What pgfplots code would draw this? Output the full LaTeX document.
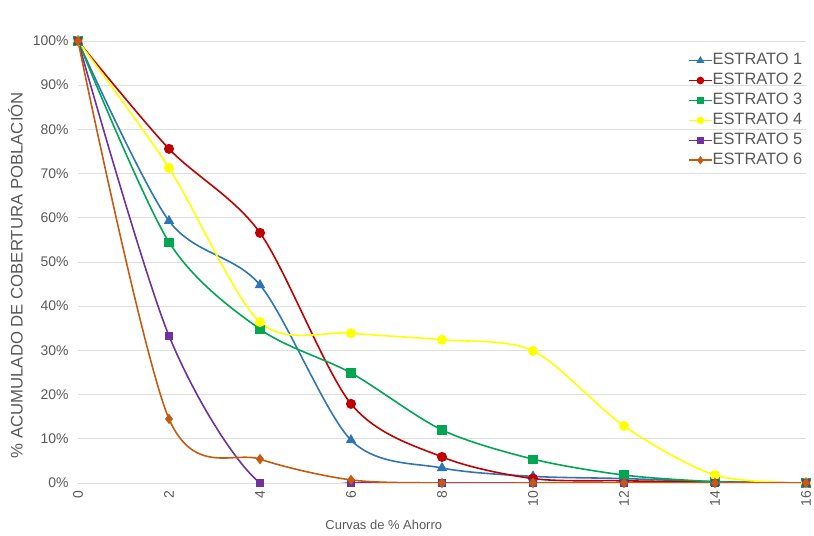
\documentclass[border=0pt]{standalone}
\usepackage{fontspec}
\setmainfont{Liberation Sans}
\usepackage{pgfplots}
\pgfplotsset{compat=1.18}
\definecolor{txt}{RGB}{89,89,89}
\definecolor{gridc}{RGB}{222,222,222}
\definecolor{c1}{RGB}{46,117,182}
\definecolor{c2}{RGB}{192,0,0}
\definecolor{c3}{RGB}{0,166,81}
\definecolor{c4}{RGB}{255,255,0}
\definecolor{c5}{RGB}{112,48,160}
\definecolor{c6}{RGB}{197,90,17}
\begin{document}
\begin{tikzpicture}
\useasboundingbox (-78bp,-53bp) rectangle (736bp,483bp);
\begin{axis}[
  at={(0,0)}, anchor=south west,
  scale only axis, width=728bp, height=442bp,
  xmin=0, xmax=16, ymin=0, ymax=100,
  xtick={0,2,...,16}, ytick={0,10,...,100},
  yticklabel={\pgfmathprintnumber{\tick}\%},
  xticklabel style={rotate=90, anchor=east, inner sep=0pt, font=\fontsize{14}{16}\selectfont, text=txt},
  xticklabel shift=8bp,
  yticklabel style={xshift=-6bp, font=\fontsize{14}{16}\selectfont, text=txt},
  /pgf/number format/assume math mode=true,
  xmajorgrids=false, ymajorgrids=true, grid style={draw=gridc, line width=0.8pt},
  axis line style={draw=none},
  major tick length=0pt,
  xlabel={Curvas de \% Ahorro},
  ylabel={\%\ ACUMULADO DE COBERTURA POBLACIÓN},
  xlabel style={at={(axis description cs:0.42,-0.095)}, anchor=center, font=\fontsize{13}{15}\selectfont, text=txt},
  ylabel style={at={(axis description cs:-0.086,0.47)}, anchor=center, font=\fontsize{16.8}{18}\selectfont, text=txt},
  legend style={at={(axis description cs:0.838,0.972)}, anchor=north west, draw=none, fill=none,
    inner xsep=0pt, inner ysep=0pt,
    font=\fontsize{16.5}{18}\selectfont, text=txt, row sep=6bp,
    nodes={inner sep=0pt, text height=11pt, text depth=3pt},
    /tikz/every even column/.append style={column sep=0bp}},
  legend cell align=left,
  legend image code/.code={\draw[mark repeat=2,mark phase=2,mark size=3pt] plot coordinates {(0cm,0cm) (0.4cm,0cm) (0.8cm,0cm)};},
  every axis plot/.append style={line width=1.6pt, smooth, tension=0.5},
]
\addplot[c1, mark=triangle*, mark size=4.5pt] coordinates {(0,100)(2,59.3)(4,44.8)(6,9.7)(8,3.4)(10,1.5)(12,1)(14,0.3)(16,0)};
\addlegendentry{ESTRATO 1}
\addplot[c2, mark=*, mark size=4.2pt] coordinates {(0,100)(2,75.6)(4,56.6)(6,17.9)(8,5.9)(10,1)(12,0.5)(14,0.2)(16,0)};
\addlegendentry{ESTRATO 2}
\addplot[c3, mark=square*, mark size=3.8pt] coordinates {(0,100)(2,54.5)(4,34.8)(6,24.9)(8,12)(10,5.4)(12,1.8)(14,0.3)(16,0)};
\addlegendentry{ESTRATO 3}
\addplot[c4, mark=*, mark size=4.2pt] coordinates {(0,100)(2,71.3)(4,36.4)(6,33.9)(8,32.4)(10,29.9)(12,12.9)(14,1.8)(16,0)};
\addlegendentry{ESTRATO 4}
\addplot[c5, mark=square*, mark size=3.5pt] coordinates {(0,100)(2,33.3)(4,0)(6,0)(8,0)(10,0)(12,0)(14,0)(16,0)};
\addlegendentry{ESTRATO 5}
\addplot[c6, mark=diamond*, mark size=4pt] coordinates {(0,100)(2,14.5)(4,5.4)(6,0.7)(8,0)(10,0)(12,0)(14,0)(16,0)};
\addlegendentry{ESTRATO 6}
\end{axis}
\end{tikzpicture}
\end{document}
